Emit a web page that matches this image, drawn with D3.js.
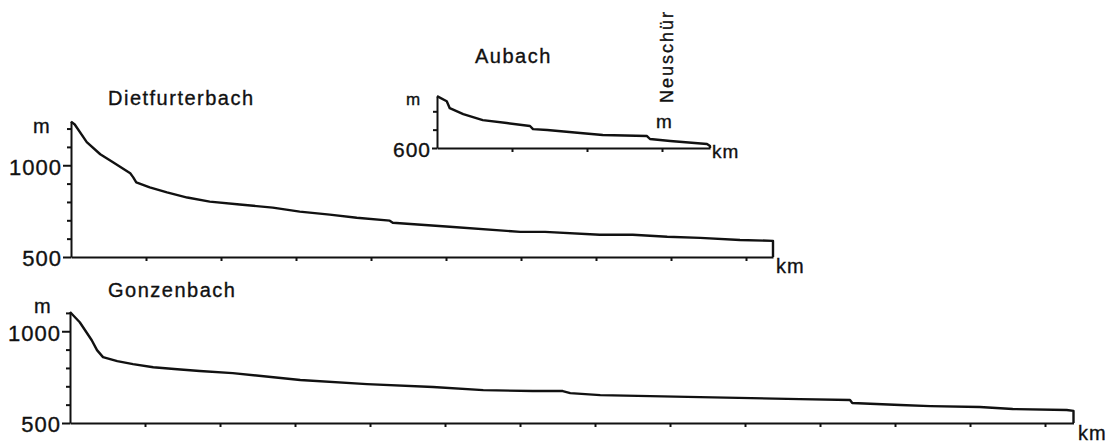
<!DOCTYPE html>
<html>
<head>
<meta charset="utf-8">
<script src="https://cdn.jsdelivr.net/npm/d3@7"></script>
<style>
  body { margin: 0; background: #fff; }
  svg text { font-family: "Liberation Sans", Arial, Helvetica, sans-serif; fill: #111; stroke: #111; stroke-width: 0.35px; }
  .axis path, .axis line { stroke: #111; stroke-width: 2; }
  .profile { fill: none; stroke: #111; stroke-width: 2.4; stroke-linejoin: round; }
</style>
</head>
<body>
<div id="chart-area"></div>
<script>
/* Profile data: distance (km) and elevation (m) */

var dietKm   = [0, 0.05, 0.21, 0.39, 0.56, 0.79, 0.83, 0.87, 1.05, 1.28, 1.55, 1.85, 2.25, 2.69, 3.05, 3.45, 3.81, 4.25, 4.29, 5.05, 5.99, 6.32, 7.05, 7.49, 7.95, 8.39, 8.92, 9.36];
var dietElev = [1238, 1222, 1126, 1060, 1016, 956, 934, 907, 879, 852, 824, 802, 786, 769, 747, 731, 714, 698, 687, 665, 637, 637, 621, 621, 610, 604, 593, 588];

var gonzKm   = [0, 0.13, 0.29, 0.36, 0.44, 0.63, 0.84, 1.11, 1.43, 1.73, 2.17, 3.07, 3.96, 4.84, 5.51, 6.17, 6.57, 6.67, 7.07, 8.4, 9.73, 10.4, 10.43, 11.07, 11.47, 12.13, 12.57, 13.29, 13.38];
var gonzElev = [1105, 1049, 951, 897, 859, 837, 821, 804, 793, 783, 772, 734, 712, 696, 679, 674, 674, 663, 652, 641, 630, 625, 609, 598, 592, 587, 576, 571, 566];

var aubKm   = [0, 0.13, 0.17, 0.35, 0.61, 0.93, 1.24, 1.28, 1.47, 1.91, 2.21, 2.8, 2.84, 3.11, 3.6, 3.64];
var aubElev = [883, 855, 817, 785, 752, 736, 720, 703, 698, 682, 671, 665, 649, 638, 622, 611];

/* Tick values */
var dietKmTicks = [1, 2, 3, 4, 5, 6, 7, 8, 9];
var gonzKmTicks = [1, 2, 3, 4, 5, 6, 7, 8, 9, 10, 11, 12, 13];
var aubKmTicks  = [1, 2, 3];
var dietLabelTicks = [500, 1000];
var dietMinorTicks = [600, 700, 800, 900, 1100, 1200];
var gonzLabelTicks = [500, 1000];
var gonzMinorTicks = [600, 700, 800, 900, 1100];
var aubLabelTicks  = [600];
var aubMinorTicks  = [700, 800];

var svg = d3.select("#chart-area").append("svg")
  .attr("width", 1111)
  .attr("height", 445);

var pxPerKm = 75;
var pxPerM = 0.1835;

/* Draws one profile panel */
function panel(opt) {
  var x = d3.scaleLinear()
    .domain([0, opt.maxKm])
    .range([opt.x0, opt.x0 + opt.maxKm * pxPerKm]);
  var y = d3.scaleLinear()
    .domain([opt.base, opt.top])
    .range([opt.y0, opt.y0 - (opt.top - opt.base) * pxPerM]);

  // x axis
  svg.append("g")
    .attr("class", "axis")
    .attr("transform", "translate(0," + opt.y0 + ")")
    .call(d3.axisBottom(x).tickValues(opt.kmTicks).tickSize(4).tickSizeOuter(0).tickFormat(""));

  // y axis, minor ticks
  svg.append("g")
    .attr("class", "axis")
    .attr("transform", "translate(" + opt.x0 + ",0)")
    .call(d3.axisLeft(y).tickValues(opt.minor).tickSize(4).tickSizeOuter(0).tickFormat(""));

  // y axis, labelled ticks
  var ya = svg.append("g")
    .attr("class", "axis")
    .attr("transform", "translate(" + opt.x0 + ",0)")
    .call(d3.axisLeft(y).tickValues(opt.labelled).tickSize(opt.majorSize).tickSizeOuter(0).tickPadding(1).tickFormat(d3.format("d")));
  ya.select(".domain").remove();
  ya.selectAll("text")
    .attr("font-size", opt.numSize + "px")
    .attr("letter-spacing", "1px")
    .attr("fill", "#111")
    .attr("dy", "0.4em");

  // profile line, closed down to the base at the right end
  var pts = opt.km.map(function(d, i) { return [d, opt.elev[i]]; });
  pts.push([opt.km[opt.km.length - 1], opt.base]);
  svg.append("path")
    .attr("class", "profile")
    .attr("d", d3.line().x(function(d) { return x(d[0]); }).y(function(d) { return y(d[1]); })(pts));

  return { x: x, y: y };
}

panel({ x0: 71, y0: 257, maxKm: 9.36, base: 500, top: 1240, km: dietKm, elev: dietElev,
        kmTicks: dietKmTicks, minor: dietMinorTicks, labelled: dietLabelTicks, majorSize: 8, numSize: 22 });
panel({ x0: 70, y0: 423, maxKm: 13.38, base: 500, top: 1105, km: gonzKm, elev: gonzElev,
        kmTicks: gonzKmTicks, minor: gonzMinorTicks, labelled: gonzLabelTicks, majorSize: 8, numSize: 22 });
panel({ x0: 437, y0: 148, maxKm: 3.64, base: 600, top: 883, km: aubKm, elev: aubElev,
        kmTicks: aubKmTicks, minor: aubMinorTicks, labelled: aubLabelTicks, majorSize: 5, numSize: 21 });

/* Titles and unit labels */
function label(txt, x, y, size, spacing) {
  return svg.append("text")
    .attr("x", x).attr("y", y)
    .attr("font-size", size + "px")
    .attr("letter-spacing", spacing + "px")
    .text(txt);
}

label("Dietfurterbach", 108, 105, 20, 1.5);
label("Gonzenbach", 108, 297, 20, 1.5);
label("Aubach", 475, 63, 20, 1.5);

label("m", 33, 133, 20, 0);
label("m", 34, 313, 20, 0);
label("m", 406, 105, 17, 0);
label("m", 656, 128, 19, 0);

label("km", 776, 273, 20, 1);
label("km", 1078, 440, 20, 1);
label("km", 712, 158, 19, 1);

svg.append("text")
  .attr("transform", "translate(673,103) rotate(-90)")
  .attr("font-size", "18px")
  .attr("letter-spacing", "2px")
  .text("Neuschür");
</script>
</body>
</html>
